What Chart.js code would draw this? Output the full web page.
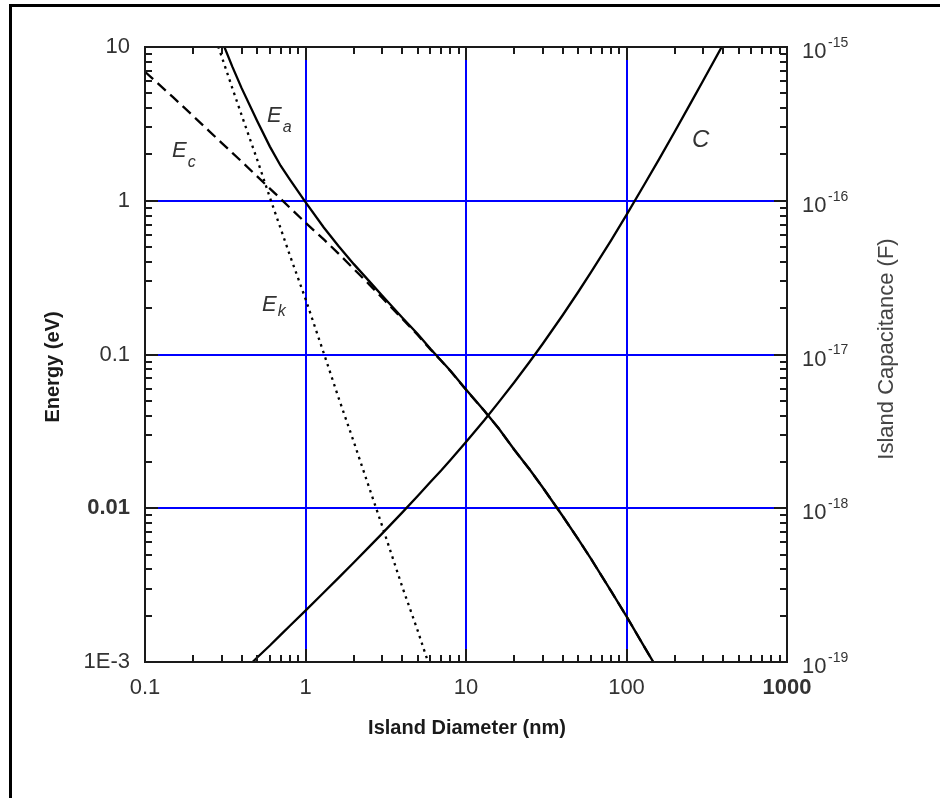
<!DOCTYPE html>
<html>
<head>
<meta charset="utf-8">
<title>Energy and capacitance vs island diameter</title>
<script src="https://cdn.jsdelivr.net/npm/chart.js@4.4.1/dist/chart.umd.min.js"></script>
<style>
  html, body { margin: 0; padding: 0; background: #fff; overflow: hidden; }
  #wrap { position: relative; width: 940px; height: 798px; }
  #frame { position: absolute; left: 9px; top: 4px; right: 0; bottom: 0; border-top: 3px solid #000; border-left: 3px solid #000; pointer-events: none; }
  canvas { position: absolute; left: 0; top: 0; }
</style>
</head>
<body>
<div id="wrap">
  <canvas id="chart" width="940" height="798"></canvas>
  <div id="frame"></div>
</div>
<script>
// island diameter (nm), shared by all curves
const diameter = [0.1, 0.15, 0.2, 0.25, 0.3, 0.35, 0.4, 0.5, 0.6, 0.7, 0.8, 1, 1.3, 1.6, 2, 2.5, 3, 4, 5, 6, 7, 8,
                  10, 13, 16, 20, 25, 30, 40, 50, 60, 80, 100, 130, 160, 200, 250, 300, 400];

// total addition energy Ea (eV)
const energyA = [null, null, null, 17.9, 11.1, 7.45, 5.4, 3.3, 2.25, 1.69, 1.37, 0.98, 0.67, 0.51, 0.387, 0.299, 0.242, 0.174, 0.136, 0.109, 0.0915, 0.0785,
                 0.0592, 0.043, 0.033, 0.024, 0.0178, 0.0137, 0.0089, 0.0063, 0.0047, 0.0029, 0.00198, 0.00124, 0.00086, 0.00057, null, null, null];

// charging energy Ec (eV)
const energyC = [6.9, 4.7, 3.55, 2.85, 2.38, 2.05, 1.8, 1.44, 1.2, 1.03, 0.9, 0.72, 0.56, 0.455, 0.36, 0.285, 0.234, 0.171, 0.134, 0.108, 0.091, 0.078,
                 0.059, 0.043, 0.033, 0.024, 0.0178, 0.0137, 0.0089, 0.0063, 0.0047, 0.0029, 0.00198, 0.00124, 0.00086, 0.00057, null, null, null];

// quantum kinetic energy Ek (eV)
const energyK = [null, null, null, 15, 8.7, 5.4, 3.6, 1.85, 1.05, 0.66, 0.44, 0.23, 0.102, 0.053, 0.027, 0.0135, 0.0077, 0.0031, 0.0016, 0.0009, 0.00055, null,
                 null, null, null, null, null, null, null, null, null, null, null, null, null, null, null, null, null];

// island capacitance C (F)
const capacitance = [null, null, null, null, null, null, 8.5e-20, 1.07e-19, 1.28e-19, 1.5e-19, 1.72e-19, 2.16e-19, 2.83e-19, 3.51e-19, 4.44e-19, 5.63e-19, 6.84e-19, 9.36e-19, 1.2e-18, 1.48e-18, 1.76e-18, 2.06e-18,
                     2.7e-18, 3.74e-18, 4.9e-18, 6.6e-18, 9.0e-18, 1.17e-17, 1.8e-17, 2.55e-17, 3.42e-17, 5.5e-17, 8.1e-17, 1.29e-16, 1.87e-16, 2.82e-16, 4.28e-16, 6.03e-16, 1.04e-15];

const xTicks = [0.1, 1, 10, 100, 1000];
const xTickLabels = ['0.1', '1', '10', '100', '1000'];
const yTicks = [0.001, 0.01, 0.1, 1, 10];
const yTickLabels = ['1E-3', '0.01', '0.1', '1', '10'];
const y2Ticks = [1e-19, 1e-18, 1e-17, 1e-16, 1e-15];
const y2Exponents = ['-19', '-18', '-17', '-16', '-15'];

const FONT = '"Liberation Sans", Arial, Helvetica, sans-serif';
const MAJOR = 13, MINOR = 7;

function points(values) {
  const out = [];
  diameter.forEach(function (d, i) {
    if (values[i] != null) out.push({ x: d, y: values[i] });
  });
  return out;
}

function minorValues(decades) {
  const out = [];
  for (let k = 0; k < decades.length - 1; k++) {
    for (let m = 2; m <= 9; m++) out.push(decades[k] * m);
  }
  return out;
}

function italicLabel(ctx, main, sub, x, y, size, subSize, subDy) {
  ctx.font = 'italic ' + size + 'px ' + FONT;
  ctx.fillText(main, x, y);
  if (sub) {
    const w = ctx.measureText(main).width;
    ctx.font = 'italic ' + subSize + 'px ' + FONT;
    ctx.fillText(sub, x + w + 1, y + subDy);
  }
}

// blue decade grid underneath, frame / inward ticks / extra text on top
const decorPlugin = {
  id: 'decor',
  beforeDatasetsDraw(chart) {
    const { ctx, chartArea: a, scales: { x, y } } = chart;
    ctx.save();
    ctx.strokeStyle = '#0000ff';
    ctx.lineWidth = 2;
    ctx.beginPath();
    xTicks.slice(1, -1).forEach(function (v) {
      const px = Math.round(x.getPixelForValue(v));
      ctx.moveTo(px, a.top + MAJOR);
      ctx.lineTo(px, a.bottom - MAJOR);
    });
    yTicks.slice(1, -1).forEach(function (v) {
      const py = Math.round(y.getPixelForValue(v));
      ctx.moveTo(a.left + MAJOR, py);
      ctx.lineTo(a.right - MAJOR, py);
    });
    ctx.stroke();
    ctx.restore();
  },
  afterDatasetsDraw(chart) {
    const { ctx, chartArea: a, scales: { x, y, y2 } } = chart;
    ctx.save();

    // plot frame
    ctx.strokeStyle = '#1a1a1a';
    ctx.lineWidth = 2;
    ctx.strokeRect(a.left, a.top, a.right - a.left, a.bottom - a.top);

    // inward ticks on all four sides
    ctx.beginPath();
    function xTick(v, len) {
      const px = Math.round(x.getPixelForValue(v));
      ctx.moveTo(px, a.bottom); ctx.lineTo(px, a.bottom - len);
      ctx.moveTo(px, a.top); ctx.lineTo(px, a.top + len);
    }
    function yTick(v, len) {
      const py = Math.round(y.getPixelForValue(v));
      ctx.moveTo(a.left, py); ctx.lineTo(a.left + len, py);
      ctx.moveTo(a.right, py); ctx.lineTo(a.right - len, py);
    }
    xTicks.forEach(function (v) { xTick(v, MAJOR); });
    minorValues(xTicks).forEach(function (v) { xTick(v, MINOR); });
    yTicks.forEach(function (v) { yTick(v, MAJOR); });
    minorValues(yTicks).forEach(function (v) { yTick(v, MINOR); });
    ctx.stroke();

    // right axis labels with powers of ten
    ctx.fillStyle = '#333';
    ctx.textAlign = 'left';
    ctx.textBaseline = 'middle';
    y2Ticks.forEach(function (v, i) {
      const py = y2.getPixelForValue(v);
      ctx.font = '22px ' + FONT;
      ctx.fillText('10', a.right + 15, py + 5);
      ctx.font = '14px ' + FONT;
      ctx.fillText(y2Exponents[i], a.right + 41, py - 4);
    });

    // axis titles
    ctx.textAlign = 'center';
    ctx.fillStyle = '#1a1a1a';
    ctx.font = 'bold 20px ' + FONT;
    ctx.fillText('Island Diameter (nm)', 467, 728);

    ctx.save();
    ctx.translate(53, 367);
    ctx.rotate(-Math.PI / 2);
    ctx.fillText('Energy (eV)', 0, 0);
    ctx.restore();

    ctx.save();
    ctx.fillStyle = '#444';
    ctx.font = '22px ' + FONT;
    ctx.translate(887, 349);
    ctx.rotate(-Math.PI / 2);
    ctx.fillText('Island Capacitance (F)', 0, 0);
    ctx.restore();

    // curve names
    ctx.textAlign = 'left';
    ctx.textBaseline = 'alphabetic';
    ctx.fillStyle = '#333';
    italicLabel(ctx, 'E', 'a', 267, 122, 22, 16, 10);
    italicLabel(ctx, 'E', 'c', 172, 157, 22, 16, 10);
    italicLabel(ctx, 'E', 'k', 262, 311, 22, 16, 5);
    italicLabel(ctx, 'C', '', 692, 147, 24, 16, 0);

    ctx.restore();
  }
};

const lineBase = { borderColor: '#000', borderWidth: 2.3, pointRadius: 0, fill: false, tension: 0 };

new Chart(document.getElementById('chart'), {
  type: 'line',
  data: {
    datasets: [
      Object.assign({ label: 'Ec', data: points(energyC), yAxisID: 'y', borderDash: [11, 6] }, lineBase),
      Object.assign({ label: 'Ek', data: points(energyK), yAxisID: 'y', borderDash: [2.5, 4.5] }, lineBase),
      Object.assign({ label: 'Ea', data: points(energyA), yAxisID: 'y' }, lineBase),
      Object.assign({ label: 'C', data: points(capacitance), yAxisID: 'y2' }, lineBase)
    ]
  },
  options: {
    responsive: false,
    animation: false,
    events: [],
    layout: { padding: { top: 47, left: 0, right: 0, bottom: 0 } },
    plugins: { legend: { display: false }, tooltip: { enabled: false } },
    scales: {
      x: {
        type: 'logarithmic', position: 'bottom', min: 0.1, max: 1000,
        grid: { display: false, drawTicks: false }, border: { display: false },
        afterBuildTicks: function (s) { s.ticks = xTicks.map(function (v) { return { value: v }; }); },
        afterFit: function (s) { s.height = 136; },
        ticks: {
          autoSkip: false, maxRotation: 0, padding: 13, color: '#333',
          font: function (c) { return { family: FONT, size: 22, weight: c.tick && c.tick.value === 1000 ? 'bold' : 'normal' }; },
          callback: function (v) { const i = xTicks.indexOf(v); return i < 0 ? '' : xTickLabels[i]; }
        }
      },
      y: {
        type: 'logarithmic', position: 'left', min: 0.001, max: 10,
        grid: { display: false, drawTicks: false }, border: { display: false },
        afterBuildTicks: function (s) { s.ticks = yTicks.map(function (v) { return { value: v }; }); },
        afterFit: function (s) { s.width = 145; },
        ticks: {
          autoSkip: false, padding: 15, color: '#333',
          font: function (c) { return { family: FONT, size: 22, weight: c.tick && c.tick.value === 0.01 ? 'bold' : 'normal' }; },
          callback: function (v) { const i = yTicks.indexOf(v); return i < 0 ? '' : yTickLabels[i]; }
        }
      },
      y2: {
        type: 'logarithmic', position: 'right', min: 1e-19, max: 1e-15,
        grid: { display: false, drawTicks: false }, border: { display: false },
        afterBuildTicks: function (s) { s.ticks = y2Ticks.map(function (v) { return { value: v }; }); },
        afterFit: function (s) { s.width = 153; },
        ticks: { display: false }
      }
    }
  },
  plugins: [decorPlugin]
});
</script>
</body>
</html>
